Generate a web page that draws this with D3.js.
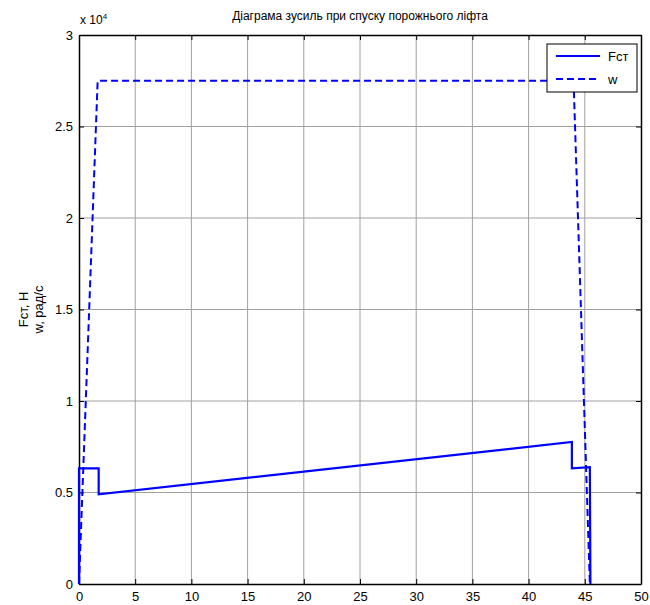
<!DOCTYPE html>
<html>
<head>
<meta charset="utf-8">
<script src="https://cdn.jsdelivr.net/npm/d3@7"></script>
<style>
  body { margin: 0; background: #fff; }
  svg { display: block; font-family: "Liberation Sans", Arial, sans-serif; }
</style>
</head>
<body>
<svg id="chart" width="650" height="605"></svg>
<script>
// Data (time in s, values in raw units)
const fctT = [0, 0, 1.75, 1.75, 43.85, 43.85, 45.45, 45.45, 45.5];
const fctV = [0, 6320, 6320, 4900, 7760, 6320, 6380, 6380, 0];
const wT = [0, 1.66, 44.0, 45.45];
const wV = [0, 27500, 27500, 0];
const xTicks = [0, 5, 10, 15, 20, 25, 30, 35, 40, 45, 50];
const yTicks = [0, 0.5, 1, 1.5, 2, 2.5, 3];
const seriesNames = ['Fст', 'w'];

const svg = d3.select('#chart');
const padLeft = 79, padRight = 641, padTop = 35, padBottom = 584;

const x = d3.scaleLinear().domain([0, 50]).range([padLeft, padRight]);
const y = d3.scaleLinear().domain([0, 30000]).range([padBottom, padTop]);

// Grid
svg.append('g').selectAll('line')
  .data(xTicks.slice(1, -1))
  .join('line')
  .attr('x1', d => x(d)).attr('x2', d => x(d))
  .attr('y1', padTop).attr('y2', padBottom)
  .attr('stroke', '#a0a0a0').attr('stroke-width', 1);
svg.append('g').selectAll('line')
  .data(yTicks.slice(1, -1))
  .join('line')
  .attr('x1', padLeft).attr('x2', padRight)
  .attr('y1', d => y(d * 1e4)).attr('y2', d => y(d * 1e4))
  .attr('stroke', '#a0a0a0').attr('stroke-width', 1);

// Axes (ticks inward, mirrored)
const tickLen = 5;
const yTickVals = yTicks.map(d => d * 1e4);
const axB = svg.append('g').attr('transform', `translate(0,${padBottom})`)
  .call(d3.axisBottom(x).tickValues(xTicks).tickSizeInner(-tickLen).tickSizeOuter(0).tickPadding(8));
const axT = svg.append('g').attr('transform', `translate(0,${padTop})`)
  .call(d3.axisTop(x).tickValues(xTicks).tickSizeInner(-tickLen).tickSizeOuter(0).tickFormat(''));
const axL = svg.append('g').attr('transform', `translate(${padLeft},0)`)
  .call(d3.axisLeft(y).tickValues(yTickVals).tickSizeInner(-tickLen).tickSizeOuter(0).tickPadding(6)
    .tickFormat(d => d3.format('~g')(d / 1e4)));
const axR = svg.append('g').attr('transform', `translate(${padRight},0)`)
  .call(d3.axisRight(y).tickValues(yTickVals).tickSizeInner(-tickLen).tickSizeOuter(0).tickFormat(''));
[axB, axT, axL, axR].forEach(g => {
  g.select('.domain').attr('stroke', '#000').attr('stroke-width', 1.5);
  g.selectAll('.tick line').attr('stroke', '#000');
  g.selectAll('text').attr('font-family', '"Liberation Sans", Arial, sans-serif')
    .attr('font-size', 13).attr('fill', '#000');
});

// Lines
const line = d3.line().x(d => x(d[0])).y(d => y(d[1]));
svg.append('path')
  .datum(d3.zip(wT, wV))
  .attr('d', line)
  .attr('fill', 'none').attr('stroke', '#0000ff').attr('stroke-width', 2)
  .attr('stroke-dasharray', '7 4');
svg.append('path')
  .datum(d3.zip(fctT, fctV))
  .attr('d', line)
  .attr('fill', 'none').attr('stroke', '#0000ff').attr('stroke-width', 2.2);

// Exponent label
const exp = svg.append('text').attr('x', padLeft + 1).attr('y', 24).attr('font-size', 12).attr('fill', '#000');
exp.append('tspan').text('x 10');
exp.append('tspan').attr('dy', -5).attr('font-size', 8).text('4');

// Title
svg.append('text')
  .attr('x', (padLeft + padRight) / 2).attr('y', 20)
  .attr('text-anchor', 'middle').attr('font-size', 12).attr('fill', '#000')
  .text('Діаграма зусиль при спуску порожнього ліфта');

// Y label
const yl = svg.append('text')
  .attr('transform', `translate(28,${(padTop + padBottom) / 2}) rotate(-90)`)
  .attr('text-anchor', 'middle').attr('font-size', 13).attr('fill', '#000');
yl.append('tspan').attr('x', 0).attr('dy', 0).text('Fст, Н');
yl.append('tspan').attr('x', 0).attr('dy', 15).text('w, рад/с');

// Legend
const lg = svg.append('g').attr('transform', 'translate(547,44)');
lg.append('rect').attr('width', 90).attr('height', 48)
  .attr('fill', '#fff').attr('stroke', '#000').attr('stroke-width', 1);
seriesNames.forEach((name, i) => {
  const yy = 12 + i * 23;
  lg.append('line').attr('x1', 9).attr('x2', 53).attr('y1', yy).attr('y2', yy)
    .attr('stroke', '#0000ff').attr('stroke-width', 2)
    .attr('stroke-dasharray', i === 1 ? '7 4' : null);
  lg.append('text').attr('x', 61).attr('y', yy + 5).attr('font-size', 13).attr('fill', '#000').text(name);
});
</script>
</body>
</html>
